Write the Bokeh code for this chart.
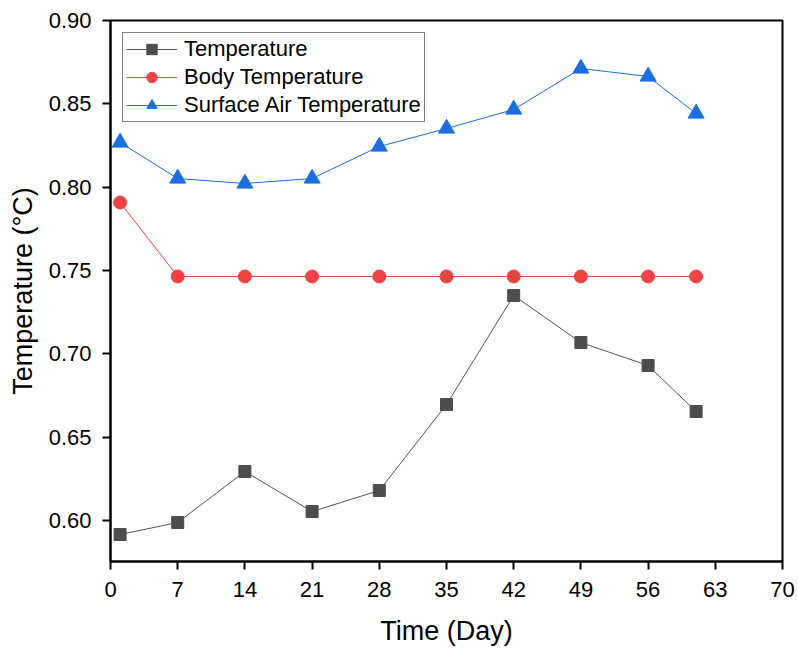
from bokeh.plotting import figure
from bokeh.models import FixedTicker, Range1d, Legend, LegendItem, NumeralTickFormatter
from bokeh.embed import file_html
from bokeh.resources import INLINE

days = [1, 7, 14, 21, 28, 35, 42, 49, 56, 61]
temperature = [0.5916, 0.5988, 0.6294, 0.6054, 0.6180, 0.6696, 0.7350, 0.7068, 0.6930, 0.6654]
body_temperature = [0.7908, 0.7464, 0.7464, 0.7464, 0.7464, 0.7464, 0.7464, 0.7464, 0.7464, 0.7464]
surface_air_temperature = [0.8268, 0.8052, 0.8022, 0.8052, 0.8244, 0.8352, 0.8466, 0.8712, 0.8664, 0.8442]
x_ticks = [0, 7, 14, 21, 28, 35, 42, 49, 56, 63, 70]
y_ticks = [0.60, 0.65, 0.70, 0.75, 0.80, 0.85, 0.90]

FONT = "Liberation Sans"

p = figure(width=798, height=653, output_backend="svg", toolbar_location=None,
           x_range=Range1d(0, 70), y_range=Range1d(0.5754, 0.90),
           min_border_left=110, min_border_right=16, min_border_top=20, min_border_bottom=92)
p.xgrid.visible = False
p.ygrid.visible = False
p.outline_line_color = "black"
p.outline_line_width = 2
p.outline_line_alpha = 1

for ax in (p.xaxis[0], p.yaxis[0]):
    ax.axis_line_width = 2
    ax.major_tick_line_width = 2
    ax.major_tick_out = 8
    ax.major_tick_in = 0
    ax.minor_tick_line_color = None
    ax.major_label_text_font = FONT
    ax.major_label_text_font_size = "22px"
    ax.major_label_text_color = "black"
    ax.axis_label_text_font = FONT
    ax.axis_label_text_font_size = "27px"
    ax.axis_label_text_font_style = "normal"
    ax.axis_label_text_color = "black"

p.xaxis.ticker = FixedTicker(ticks=x_ticks)
p.yaxis.ticker = FixedTicker(ticks=y_ticks)
p.yaxis.formatter = NumeralTickFormatter(format="0.00")
p.xaxis.axis_label = "Time (Day)"
p.yaxis.axis_label = "Temperature (°C)"
p.xaxis.major_label_standoff = 12
p.yaxis.major_label_standoff = 11
p.xaxis.axis_label_standoff = 16
p.yaxis.axis_label_standoff = 8

c1, c2, c3 = "#4d4d4d", "#f04444", "#1a6fdf"
l1 = p.line(days, temperature, line_color="#555555", line_width=1)
m1 = p.scatter(days, temperature, marker="square", size=12, fill_color=c1, line_color=c1)
l2 = p.line(days, body_temperature, line_color=c2, line_width=1)
m2 = p.scatter(days, body_temperature, marker="circle", size=13, fill_color=c2, line_color=c2)
l3 = p.line(days, surface_air_temperature, line_color=c3, line_width=1)
m3 = p.scatter(days, surface_air_temperature, marker="triangle", size=16, fill_color=c3, line_color=c3)

legend = Legend(items=[
    LegendItem(label="Temperature", renderers=[l1, m1]),
    LegendItem(label="Body Temperature", renderers=[l2, m2]),
    LegendItem(label="Surface Air Temperature", renderers=[l3, m3]),
])
legend.location = "top_left"
legend.label_text_font = FONT
legend.label_text_font_size = "22px"
legend.label_text_color = "black"
legend.glyph_width = 51
legend.glyph_height = 26
legend.label_height = 26
legend.label_standoff = 7
legend.spacing = 2
legend.padding = 3
legend.margin = 12
legend.border_line_color = "black"
legend.border_line_width = 1
legend.background_fill_alpha = 1
p.add_layout(legend)

open("out.html", "w").write(file_html(p, INLINE))
